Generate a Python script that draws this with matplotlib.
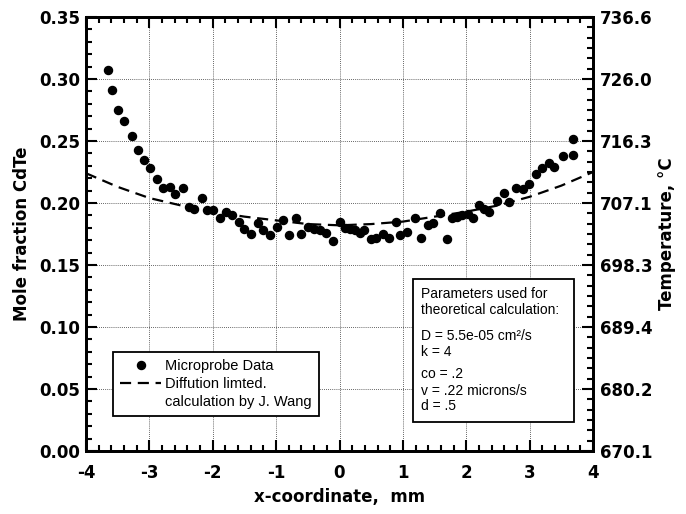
import matplotlib.pyplot as plt
from matplotlib.lines import Line2D
from matplotlib.patches import Rectangle
from matplotlib.ticker import MultipleLocator, FixedLocator

# microprobe data (x in mm, mole fraction CdTe)
x_data = [-3.65, -3.59, -3.50, -3.40, -3.28, -3.18, -3.09, -2.99, -2.88, -2.78,
          -2.68, -2.59, -2.47, -2.38, -2.29, -2.17, -2.09, -2.00, -1.88, -1.79,
          -1.70, -1.59, -1.50, -1.39, -1.28, -1.20, -1.09, -0.99, -0.89, -0.79,
          -0.69, -0.61, -0.49, -0.40, -0.31, -0.21, -0.11, 0.00, 0.08, 0.17,
          0.25, 0.33, 0.39, 0.49, 0.57, 0.68, 0.78, 0.89, 0.96, 1.07,
          1.19, 1.28, 1.40, 1.47, 1.59, 1.69, 1.78, 1.86, 1.94, 2.02,
          2.10, 2.20, 2.28, 2.36, 2.49, 2.59, 2.68, 2.78, 2.89, 2.99,
          3.10, 3.20, 3.31, 3.39, 3.52, 3.68, 3.68]
y_data = [0.307, 0.291, 0.275, 0.266, 0.254, 0.243, 0.235, 0.228, 0.219, 0.212,
          0.213, 0.207, 0.212, 0.197, 0.195, 0.204, 0.194, 0.194, 0.188, 0.193,
          0.190, 0.185, 0.179, 0.175, 0.184, 0.178, 0.174, 0.181, 0.186, 0.174,
          0.188, 0.175, 0.181, 0.179, 0.178, 0.176, 0.169, 0.185, 0.180, 0.179,
          0.178, 0.176, 0.178, 0.171, 0.172, 0.175, 0.172, 0.185, 0.174, 0.177,
          0.188, 0.172, 0.182, 0.184, 0.192, 0.171, 0.188, 0.189, 0.190, 0.191,
          0.188, 0.198, 0.195, 0.193, 0.202, 0.208, 0.201, 0.212, 0.211, 0.215,
          0.223, 0.228, 0.232, 0.229, 0.238, 0.239, 0.252]

# diffusion limited calculation
x_calc = [-4, -3.5, -3, -2.5, -2, -1.5, -1, -0.5, 0, 0.5, 1, 1.5, 2, 2.5, 3, 3.5, 4]
y_calc = [0.224, 0.213, 0.204, 0.198, 0.193, 0.189, 0.186, 0.183, 0.182, 0.183,
          0.185, 0.189, 0.193, 0.198, 0.205, 0.214, 0.225]

y_ticks = [0.00, 0.05, 0.10, 0.15, 0.20, 0.25, 0.30, 0.35]
temp_labels = ['670.1', '680.2', '689.4', '698.3', '707.1', '716.3', '726.0', '736.6']

params = ['Parameters used for', 'theoretical calculation:',
          'D = 5.5e-05 cm\u00b2/s', 'k = 4', 'co = .2', 'v = .22 microns/s', 'd = .5']
param_y = [0.362, 0.325, 0.265, 0.229, 0.178, 0.139, 0.104]

bold = dict(family='DejaVu Sans', weight='bold', size=12)

fig = plt.figure(figsize=(6.86, 5.14), dpi=100)
ax = fig.add_axes([86/686, 1 - 451/514, 507/686, 434/514])

ax.plot(x_calc, y_calc, color='black', lw=1.6, dashes=(5, 3), zorder=3)
ax.plot(x_data, y_data, 'o', color='black', ms=5.8, zorder=4)

ax.set_xlim(-4, 4)
ax.set_ylim(0, 0.35)
ax.xaxis.set_major_locator(MultipleLocator(1))
ax.xaxis.set_minor_locator(MultipleLocator(0.2))
ax.set_yticks(y_ticks)
ax.yaxis.set_minor_locator(MultipleLocator(0.01))
ax.set_yticklabels(['%.2f' % v for v in y_ticks], **bold)
ax.set_xticklabels([str(int(v)) for v in ax.get_xticks()], **bold)
ax.tick_params(which='both', direction='in', top=True, width=1.5)
ax.tick_params(which='major', length=8)
ax.tick_params(which='minor', length=4)
ax.tick_params(axis='x', pad=9)
ax.tick_params(axis='y', pad=4)
ax.grid(True, which='major', linestyle=(0, (1, 1.5)), color='#333333', lw=0.6)
for s in ax.spines.values():
    s.set_linewidth(2)

ax.set_xlabel('x-coordinate,  mm', labelpad=5, **bold)
ax.set_ylabel('Mole fraction CdTe', labelpad=6, **bold)

ax2 = ax.twinx()
ax2.set_ylim(0, 0.35)
ax2.set_yticks(y_ticks)
ax2.set_yticklabels(temp_labels, **bold)
ax2.yaxis.set_minor_locator(FixedLocator([i * 0.05 / 6 for i in range(43)]))
ax2.tick_params(which='both', direction='in', width=1.5, pad=5)
ax2.tick_params(which='major', length=8)
ax2.tick_params(which='minor', length=4)
ax2.set_ylabel('Temperature, \u00b0C', labelpad=4, **bold)
for s in ax2.spines.values():
    s.set_linewidth(2)

handles = [Line2D([], [], marker='o', color='black', ls='none', ms=5.8),
           Line2D([], [], color='black', lw=1.6, dashes=(5, 3)),
           Line2D([], [], color='none')]
leg = ax.legend(handles, ['Microprobe Data', 'Diffution limted.', 'calculation by J. Wang'],
                loc='upper left', bbox_to_anchor=(0.053, 0.228), fancybox=False,
                edgecolor='black', framealpha=1, handlelength=2.8, handletextpad=0.3,
                labelspacing=0.25, borderpad=0.5, borderaxespad=0,
                prop=dict(family='Liberation Sans', size=10.5))
leg.get_frame().set_linewidth(1.3)

ax.add_patch(Rectangle((0.645, 0.067), 0.318, 0.329, transform=ax.transAxes,
                       facecolor='white', edgecolor='black', lw=1.3, zorder=5))
for t, yy in zip(params, param_y):
    ax.text(0.66, yy, t, transform=ax.transAxes, va='center', ha='left',
            family='Liberation Sans', size=10, zorder=6)

fig.savefig('out.png', dpi=100)
